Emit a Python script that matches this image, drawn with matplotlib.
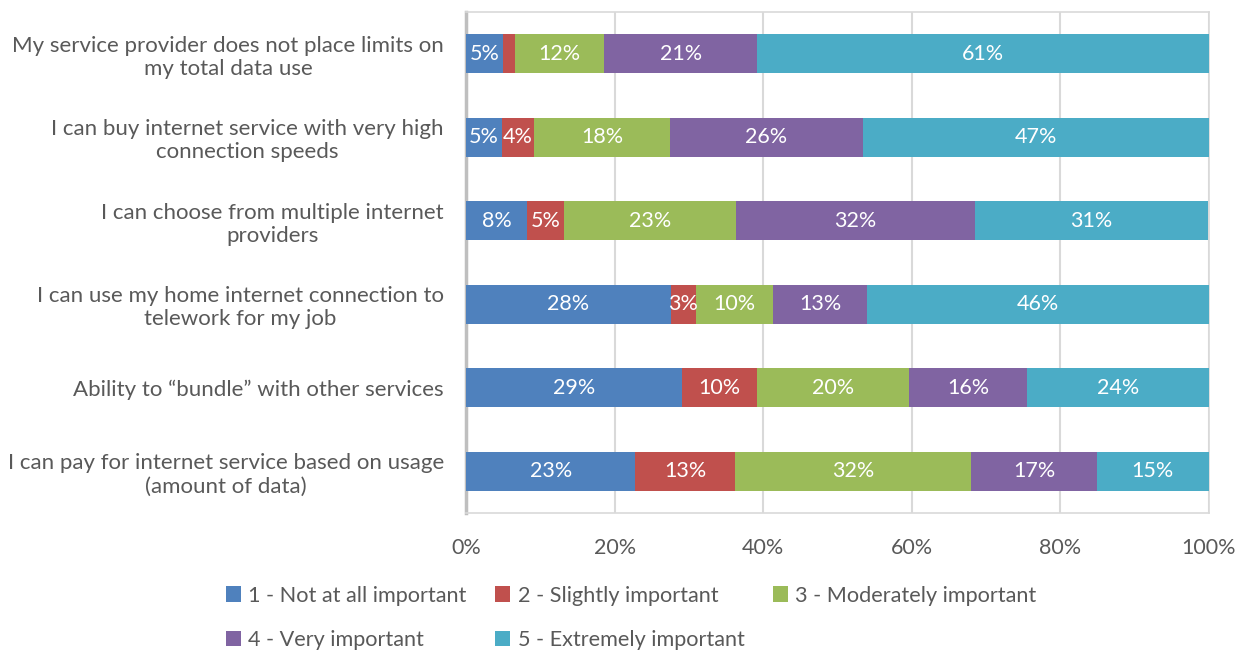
import matplotlib
matplotlib.use("Agg")
import matplotlib.pyplot as plt
import numpy as np

plt.rcParams['font.family'] = ['Lato', 'DejaVu Sans']

categories = ["My service provider does not place limits on\nmy total data use",
              "I can buy internet service with very high\nconnection speeds",
              "I can choose from multiple internet\nproviders",
              "I can use my home internet connection to\ntelework for my job",
              "Ability to \u201cbundle\u201d with other services",
              "I can pay for internet service based on usage\n(amount of data)"]

series_names = ["1 - Not at all important", "2 - Slightly important",
                "3 - Moderately important", "4 - Very important",
                "5 - Extremely important"]

not_at_all = [5.0, 4.9, 8.2, 27.6, 29.1, 22.8]
slightly = [1.6, 4.2, 5.0, 3.3, 10.1, 13.4]
moderately = [12.0, 18.4, 23.2, 10.4, 20.4, 31.8]
very = [20.6, 25.9, 32.1, 12.7, 15.9, 16.9]
extremely = [60.8, 46.6, 31.4, 46.0, 24.5, 15.1]

colors = ["#4F81BD", "#C0504D", "#9BBB59", "#8064A2", "#4BACC6"]
text_gray = "#595959"

fig = plt.figure(figsize=(12.46, 6.51), dpi=100)
ax = fig.add_axes([466/1246, 1 - 513/651, (1209 - 466)/1246, (513 - 12)/651])

y = np.arange(len(categories))
left = np.zeros(len(categories))
for name, vals, col in zip(series_names,
                           [not_at_all, slightly, moderately, very, extremely],
                           colors):
    vals = np.array(vals)
    ax.barh(y, vals, left=left, height=0.47, color=col, label=name, zorder=3)
    for yi, l, v in zip(y, left, vals):
        if v >= 2.5:
            ax.text(l + v / 2, yi, f"{round(v):.0f}%", ha="center", va="center",
                    color="white", fontsize=15.5, zorder=4)
    left += vals

ax.set_xlim(0, 100)
ax.set_ylim(len(categories) - 0.5, -0.5)
ax.set_yticks(y)
ax.set_yticklabels(categories, fontsize=16, color=text_gray, ha="right",
                   multialignment="center")
ax.set_xticks(np.arange(0, 101, 20))
ax.set_xticklabels([f"{t}%" for t in range(0, 101, 20)], fontsize=15.5, color=text_gray)
ax.tick_params(axis="y", length=0, pad=16)
ax.tick_params(axis="x", length=0, pad=18)
ax.grid(axis="x", color="#D9D9D9", linewidth=1.5, zorder=0)
for side in ["top", "right", "bottom"]:
    ax.spines[side].set_color("#D9D9D9")
    ax.spines[side].set_linewidth(1.2)
ax.spines["left"].set_color("#BFBFBF")
ax.spines["left"].set_linewidth(2.5)

# legend fills column by column, reorder so it reads row by row
handles, labels = ax.get_legend_handles_labels()
order = [0, 3, 1, 4, 2]
leg = fig.legend([handles[i] for i in order], [labels[i] for i in order],
                 loc="upper left", bbox_to_anchor=(206/1246, 1 - 566/651), ncol=3,
                 frameon=False, fontsize=15.6, handlelength=0.7, handleheight=0.7,
                 handletextpad=0.35, columnspacing=1.3, labelspacing=1.15)
for t in leg.get_texts():
    t.set_color(text_gray)

fig.savefig("out.png", dpi=100)
